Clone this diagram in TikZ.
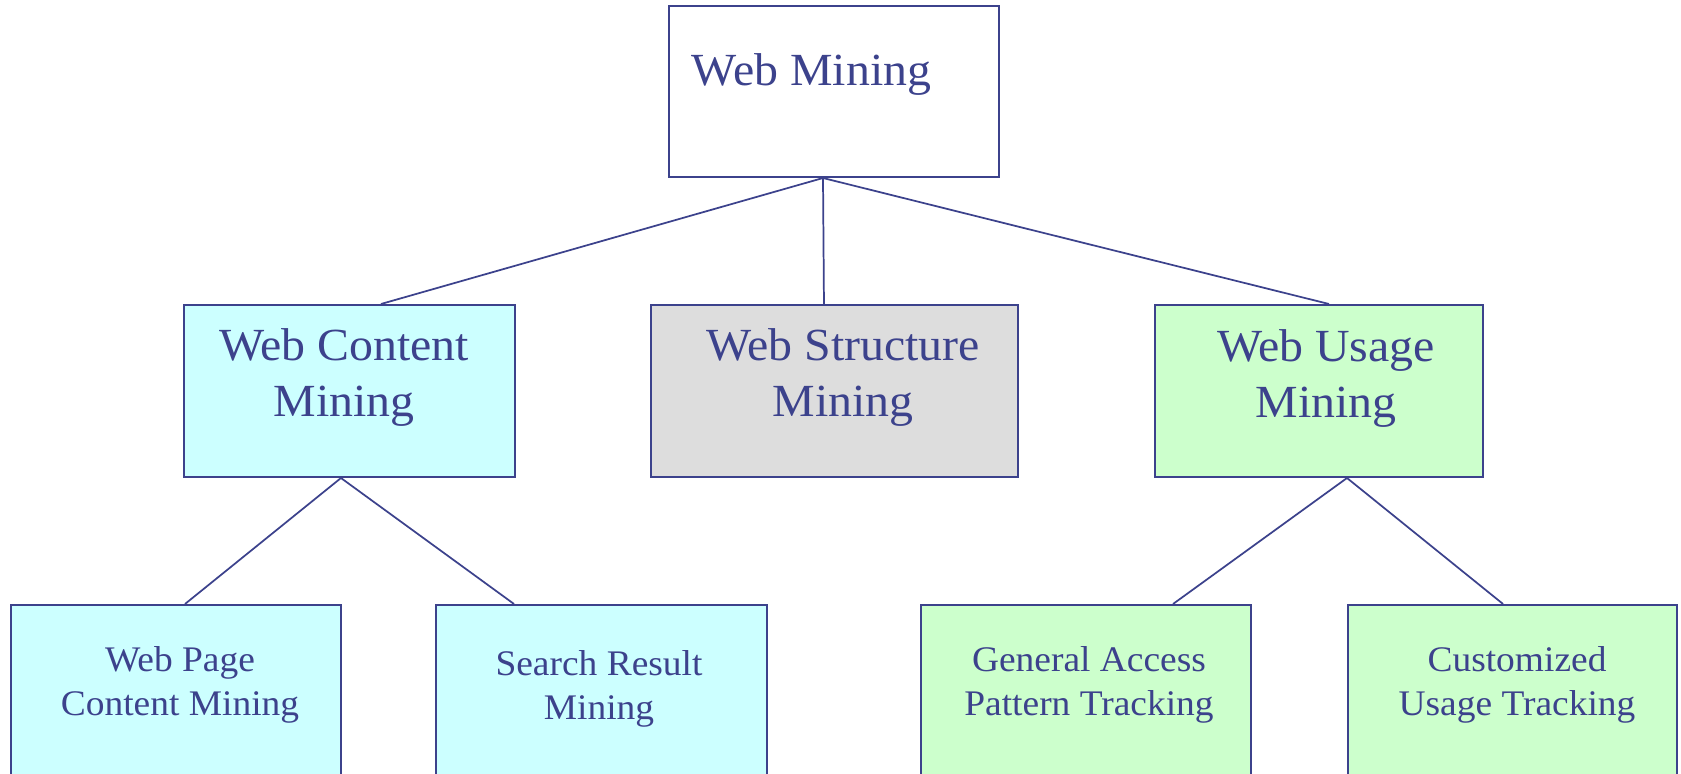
\documentclass[tikz,border=0pt]{standalone}
\usepackage{fontspec}
\setmainfont{Liberation Serif}[FakeStretch=1.04]

\definecolor{inkblue}{RGB}{60,66,140}
\definecolor{contentfill}{RGB}{204,255,255}
\definecolor{structfill}{RGB}{221,221,221}
\definecolor{usagefill}{RGB}{204,255,204}

\tikzset{
  box/.style={draw=inkblue, line width=1.5pt, rectangle, inner sep=0pt},
  bigtext/.style={text=inkblue, align=center, anchor=base,
    font=\fontsize{34.5}{42}\selectfont},
  smalltext/.style={text=inkblue, align=center, anchor=base,
    font=\fontsize{27}{33}\selectfont},
}

\begin{document}
\begin{tikzpicture}[x=0.75pt,y=-0.75pt]
  \clip (0,0) rectangle (1681,774);
  % boxes
  \node (web) [box, fill=white, minimum width=247.5pt, minimum height=128.25pt] at (834,91.5) {};
  \node (content) [box, fill=contentfill, minimum width=248.25pt, minimum height=129pt] at (349.5,391) {};
  \node (structure) [box, fill=structfill, minimum width=275.25pt, minimum height=129pt] at (834.5,391) {};
  \node (usage) [box, fill=usagefill, minimum width=246pt, minimum height=129pt] at (1319,391) {};
  \node (page) [box, fill=contentfill, minimum width=247.5pt, minimum height=129pt] at (176,691) {};
  \node (search) [box, fill=contentfill, minimum width=248.25pt, minimum height=129pt] at (601.5,691) {};
  \node (access) [box, fill=usagefill, minimum width=247.5pt, minimum height=129pt] at (1086,691) {};
  \node (custom) [box, fill=usagefill, minimum width=246.75pt, minimum height=129pt] at (1512.5,691) {};
  % texts (base = last line)
  \node (webtext) [bigtext] at (811.5,85) {Web Mining};
  \node (contenttext) [bigtext] at (344,416) {Web Content\\Mining};
  \node (structuretext) [bigtext] at (843,416) {Web Structure\\Mining};
  \node (usagetext) [bigtext] at (1326,417) {Web Usage\\Mining};
  \node (pagetext) [smalltext] at (180,715) {Web Page\\Content Mining};
  \node (searchtext) [smalltext] at (599,719) {Search Result\\Mining};
  \node (accesstext) [smalltext] at (1089,715) {General Access\\Pattern Tracking};
  \node (customtext) [smalltext] at (1517,715) {Customized\\Usage Tracking};
  % connectors
  \begin{scope}[draw=inkblue, line width=1.3pt]
    \draw ([xshift=-8.25pt]web.south) to ([xshift=23.6pt]content.north);
    \draw ([xshift=-8.25pt]web.south) to ([xshift=-7.9pt]structure.north);
    \draw ([xshift=-8.25pt]web.south) to ([xshift=7.5pt]usage.north);
    \draw ([xshift=-6.4pt]content.south) to ([xshift=6.75pt]page.north);
    \draw ([xshift=-6.4pt]content.south) to ([xshift=-65.6pt]search.north);
    \draw ([xshift=21pt]usage.south) to ([xshift=65.25pt]access.north);
    \draw ([xshift=21pt]usage.south) to ([xshift=-7.1pt]custom.north);
  \end{scope}
\end{tikzpicture}
\end{document}
